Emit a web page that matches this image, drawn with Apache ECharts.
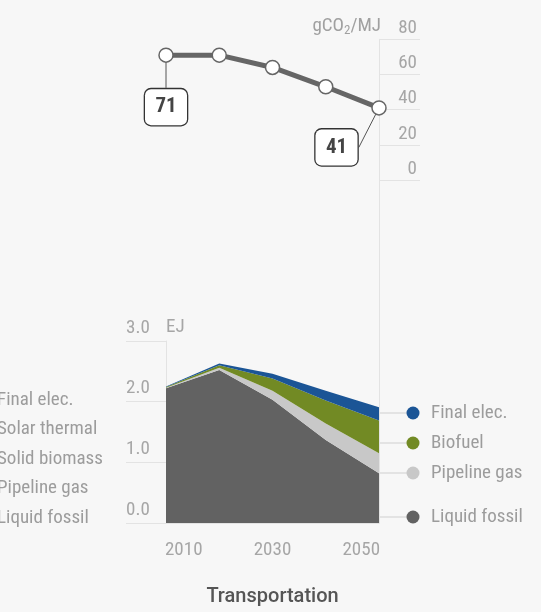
<!DOCTYPE html>
<html>
<head>
<meta charset="utf-8">
<script src="https://cdn.jsdelivr.net/npm/echarts@6/dist/echarts.min.js"></script>
<style>
html,body{margin:0;padding:0;background:#f7f7f7;}
#chart{width:541px;height:612px;}
</style>
</head>
<body>
<div id="chart"></div>
<script>
// ---- data ----
const years = [2006, 2018, 2030, 2042, 2054];
const carbonIntensity = [71, 71, 64, 53, 41];          // gCO2/MJ
const liquidFossil = [2.22, 2.52, 2.03, 1.37, 0.82];   // EJ
const pipelineGas  = [0.01, 0.04, 0.15, 0.27, 0.33];
const biofuel      = [0.01, 0.04, 0.20, 0.38, 0.54];
const finalElec    = [0.01, 0.03, 0.08, 0.16, 0.22];
const xTickValues = [2010, 2030, 2050];
const ciLabelIdx = [0, 4];
const rightLegendNames = ['Final elec.', 'Biofuel', 'Pipeline gas', 'Liquid fossil'];
const leftLegendNames = ['Final elec.', 'Solar thermal', 'Solid biomass', 'Pipeline gas', 'Liquid fossil'];
const panelTitle = 'Transportation';

// ---- style ----
const FONT = "'Liberation Sans Narrow', 'Roboto Condensed', Roboto, sans-serif";
const FS = 19;
const GRID_C = '#e3e3e3';
const LABEL_C = '#a6a6a6';
const colors = {'Final elec.':'#1b5596','Biofuel':'#728a24','Pipeline gas':'#c8c8c8','Liquid fossil':'#626262'};
const rightLegendY = [413, 443, 473, 517];
const leftLegendY = [400, 429.5, 459, 488.5, 518];

const chart = echarts.init(document.getElementById('chart'), null, {renderer:'canvas'});

const xBase = {type:'value', min:years[0], max:years[years.length-1]};
const labelOffsets = {0:[0,52], 4:[-42.5,39.5]};

function areaSeries(name, arr){
  return {type:'line', xAxisIndex:2, yAxisIndex:2, stack:'energy', name:name, z:2,
    // value first so stacking happens on the energy dimension
    data:years.map((y,i)=>[arr[i], y]), encode:{x:1, y:0},
    symbol:'none', lineStyle:{width:0}, areaStyle:{color:colors[name], opacity:1}};
}

const option = {
  backgroundColor:'#f7f7f7',
  animation:false,
  textStyle:{fontFamily:FONT},
  grid:[
    {left:166, right:162, top:39.3, bottom:432},   // 0 top line
    {left:379, right:121, top:39.3, bottom:432},   // 1 top ticks
    {left:166, right:162, top:341, bottom:89},     // 2 bottom area
    {left:126, width:40, top:341, bottom:89},      // 3 bottom ticks
    {left:379, right:121, top:39.3, bottom:89}     // 4 vertical divider
  ],
  xAxis:[
    Object.assign({gridIndex:0, show:false}, xBase),
    {gridIndex:1, type:'value', show:false, min:0, max:1},
    Object.assign({gridIndex:2,
      axisLine:{show:true, lineStyle:{color:GRID_C}},
      axisTick:{show:false}, splitLine:{show:false},
      axisLabel:{customValues:xTickValues, formatter:v=>String(v), color:LABEL_C, fontSize:FS, margin:18, fontFamily:FONT}
    }, xBase),
    {gridIndex:3, type:'value', show:false, min:0, max:1},
    {gridIndex:4, type:'value', show:false, min:0, max:1}
  ],
  yAxis:[
    {gridIndex:0, type:'value', min:0, max:80, show:false},
    {gridIndex:1, type:'value', min:0, max:80, interval:20, position:'right',
      axisLine:{show:false}, axisTick:{show:false},
      splitLine:{show:true, lineStyle:{color:GRID_C, width:1}},
      axisLabel:{inside:true, align:'right', margin:3, verticalAlign:'bottom', padding:[0,0,1,0], color:LABEL_C, fontSize:FS, lineHeight:20, fontFamily:FONT}
    },
    {gridIndex:2, type:'value', min:0, max:3, interval:1,
      name:'EJ', nameLocation:'end', nameGap:14,
      nameTextStyle:{align:'left', verticalAlign:'middle', color:LABEL_C, fontSize:FS, fontFamily:FONT},
      axisLine:{show:true, lineStyle:{color:GRID_C}}, axisTick:{show:false},
      axisLabel:{show:false}, splitLine:{show:false}
    },
    {gridIndex:3, type:'value', min:0, max:3, interval:1, position:'left',
      axisLine:{show:false}, axisTick:{show:false},
      splitLine:{show:true, lineStyle:{color:GRID_C, width:1}},
      axisLabel:{inside:true, align:'left', margin:0, verticalAlign:'bottom', padding:[0,0,3,0], color:LABEL_C, fontSize:FS, lineHeight:20, fontFamily:FONT,
        formatter:v=>v.toFixed(1)}
    },
    {gridIndex:4, type:'value', min:0, max:1, position:'left',
      axisLine:{show:true, lineStyle:{color:GRID_C}}, axisTick:{show:false},
      axisLabel:{show:false}, splitLine:{show:false}
    }
  ],
  series:[
    areaSeries('Liquid fossil', liquidFossil),
    areaSeries('Pipeline gas', pipelineGas),
    areaSeries('Biofuel', biofuel),
    areaSeries('Final elec.', finalElec),
    {type:'line', xAxisIndex:0, yAxisIndex:0, name:'Carbon intensity', z:5,
      data:years.map((y,i)=>({
        value:[y, carbonIntensity[i]],
        label:{show:ciLabelIdx.includes(i)}
      })),
      symbol:'circle', symbolSize:14,
      itemStyle:{color:'#ffffff', borderColor:'#666', borderWidth:1.5},
      lineStyle:{color:'#666', width:5},
      label:{show:false, position:'inside',
        formatter:p=>String(p.value[1]),
        color:'#444', fontWeight:'bold', fontSize:21, fontFamily:FONT,
        backgroundColor:'#ffffff', borderColor:'#333', borderWidth:1.3, borderRadius:6,
        width:28, height:20, lineHeight:20, align:'center', padding:[8,7,8,7]},
      labelLine:{show:true, lineStyle:{color:'#555', width:1}},
      labelLayout:function(p){
        const o = labelOffsets[p.dataIndex];
        return o ? {dx:o[0], dy:o[1]} : {};
      }
    }
  ],
  graphic:[]
};

// right legend
rightLegendNames.forEach((n,i)=>{
  const y = rightLegendY[i];
  option.graphic.push({type:'line', shape:{x1:380, y1:y, x2:412, y2:y}, style:{stroke:'#cfcfcf', lineWidth:1}, z:1});
  option.graphic.push({type:'circle', shape:{cx:413, cy:y, r:6.5}, style:{fill:colors[n]}, z:2});
  option.graphic.push({type:'text', x:431, y:y+0.5, style:{text:n, fill:'#9c9c9c', font:FS+'px '+FONT, textAlign:'left', textVerticalAlign:'middle', align:'left', verticalAlign:'middle'}});
});
// left (clipped) legend
leftLegendNames.forEach((n,i)=>{
  option.graphic.push({type:'text', x:-3, y:leftLegendY[i], style:{text:n, fill:'#9c9c9c', font:FS+'px '+FONT, textAlign:'left', textVerticalAlign:'middle', align:'left', verticalAlign:'middle'}});
});
// unit label
option.graphic.push({type:'text', x:381, y:26, style:{
  text:'{a|gCO}{s|2}{a|/MJ}', align:'right', verticalAlign:'middle', textAlign:'right', textVerticalAlign:'middle',
  rich:{a:{fontSize:FS, fontFamily:FONT, fill:'#a0a0a0', color:'#a0a0a0', lineHeight:22},
        s:{fontSize:13, fontFamily:FONT, fill:'#a0a0a0', color:'#a0a0a0', lineHeight:22, padding:[9,0,0,0]}}
}});
// panel title
option.graphic.push({type:'text', x:272.5, y:597, style:{text:panelTitle, fill:'#555', font:'500 20px Roboto, sans-serif', textAlign:'center', textVerticalAlign:'middle', align:'center', verticalAlign:'middle'}});

chart.setOption(option);
</script>
</body>
</html>
